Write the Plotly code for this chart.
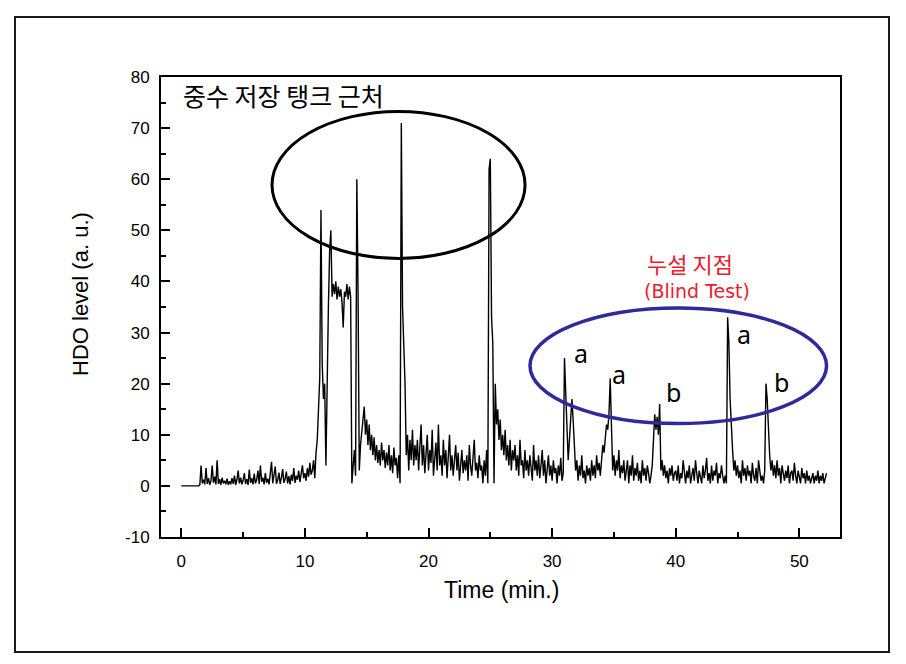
import plotly.graph_objects as go

# ---- data (HDO level sampled every 0.1 min) ----
time_start = 0.0
time_step = 0.1

hdo_00_10 = [
    0, 0, 0, 0, 0, 0, 0, 0, 0, 0,
    0, 0, 0, 0, 0, 0.2, 4.0, 0.5, 1.2, 0.3,
    3.5, 0.4, 1.5, 0.2, 1.0, 4.0, 0.6, 1.8, 0.3, 5.0,
    0.4, 1.3, 0.2, 1.6, 0.5, 1.0, 0.3, 1.4, 0.2, 0.9,
    0.3, 1.5, 0.4, 2.0, 0.2, 1.2, 3.0, 0.5, 1.6, 0.3,
    1.1, 2.5, 0.4, 1.3, 0.2, 3.2, 0.6, 1.5, 0.3, 2.4,
    0.5, 1.2, 3.0, 0.4, 4.0, 0.8, 1.6, 0.3, 2.5, 0.6,
    1.4, 0.3, 2.2, 4.7, 0.5, 1.8, 3.8, 0.4, 1.2, 2.6,
    0.4, 1.6, 3.3, 0.6, 1.4, 2.8, 0.5, 1.9, 0.3, 2.2,
    1.0, 3.5, 0.6, 2.0, 1.2, 3.0, 0.8, 2.4, 4.0, 1.5,
]
hdo_10_20 = [
    2.5, 1.0, 3.5, 1.8, 4.5, 2.2, 3.0, 5.0, 1.5, 6.5,
    9, 15, 21, 54, 24, 17, 20, 4, 25, 35,
    46, 50, 37, 39.5, 37.5, 40, 36.5, 39, 37, 38.5,
    36, 31, 38, 37, 39.5, 36.5, 39, 37, 0.5, 3,
    7, 2, 60, 38, 3, 8, 11, 13, 15.5, 10,
    13, 8, 12, 7, 10, 6, 9.5, 5, 8, 4.5,
    7, 4, 8.5, 5, 7, 3.5, 6.5, 4, 8, 3,
    6, 2.5, 7.5, 4, 5.5, 1.5, 6, 0.5, 71, 35,
    29, 20, 6, 10, 3, 9, 5, 11, 4, 8,
    5, 9, 3, 7, 12, 4, 8, 2.5, 6, 10,
]
hdo_20_30 = [
    3, 7, 4.5, 11, 2, 6, 8.5, 3, 12, 4,
    6, 2, 9, 4, 7, 1.5, 5.5, 10, 3, 6,
    2, 5, 8, 3, 6.5, 1, 4.5, 7, 2.5, 5,
    3, 6, 1, 8, 4, 2, 5.5, 9, 3, 4.5,
    1.5, 6, 3, 4, 0.5, 5, 2, 7, 0.5, 62,
    64, 33, 28, 0.5, 20, 12, 15, 9, 13, 7,
    10, 6, 11, 5, 8, 4, 9, 3, 7, 5,
    8, 3, 6, 2, 9, 4, 5, 1.5, 7, 3,
    5, 2, 6, 4, 1, 8, 3, 5, 2, 6,
    1.5, 4, 7, 2, 5, 0.5, 3, 6, 2, 4,
]
hdo_30_40 = [
    1, 5, 2.5, 3.5, 0.5, 4, 2, 5.5, 1, 2.5,
    25, 19, 12, 5, 9, 14, 17, 13, 7, 3,
    5, 1, 4, 2, 6, 1.5, 3, 0.5, 4, 2,
    3.5, 1, 5, 2, 4, 1.5, 6, 3, 4.5, 2,
    5, 8, 6.5, 9, 12, 11, 14, 21, 12, 3,
    6, 2, 5, 3, 7, 1.5, 4, 2.5, 5, 1,
    3, 5, 0.5, 4, 2, 6, 1, 3.5, 2, 4.5,
    1, 3, 0.5, 5, 2, 3.5, 1, 4, 2.5, 0.5,
    2, 4, 9, 14, 11, 13.5, 10, 16, 3, 5,
    2, 4, 1.5, 3, 0.5, 3.5, 2, 4, 1, 2.5,
]
hdo_40_52 = [
    3, 1, 4, 0.5, 2.5, 1.5, 5, 2, 0.5, 3,
    1.5, 4, 0.5, 2, 3.5, 1, 5, 2.5, 0.5, 3,
    2, 0.5, 4, 1.5, 3, 5.5, 1, 2.5, 0.5, 4,
    1, 3, 2, 4.5, 0.5, 2.5, 1.5, 4, 2, 0.5,
    2, 0.5, 33, 28, 17, 11, 7, 3, 5, 2,
    4, 1.5, 3, 0.5, 5, 2, 3.5, 1, 4, 2,
    3, 0.5, 4.5, 2, 1, 3.5, 0.5, 5, 2.5, 1,
    2, 0.5, 3, 20, 17, 10, 6, 3, 5, 2,
    4, 1.5, 5, 2, 3.5, 0.5, 4, 2.5, 1, 3,
    1.5, 4, 0.5, 2.5, 3, 1, 4.5, 2, 0.5, 3,
    2, 0.5, 3.5, 1.5, 2.5, 0.5, 3, 1, 2, 0.5,
    1.5, 2.5, 0.5, 2, 1, 3, 0.5, 2, 1, 2.5,
    0.5, 1.5, 2.5,
]

x_ticks = [0, 10, 20, 30, 40, 50]
x_tick_text = ["0", "10", "20", "30", "40", "50"]
y_ticks = [-10, 0, 10, 20, 30, 40, 50, 60, 70, 80]
y_tick_text = ["-10", "0", "10", "20", "30", "40", "50", "60", "70", "80"]

title_kr = "중수 저장 탱크 근처"
leak_kr = "누설 지점"
leak_en = "(Blind Test)"
peak_labels = ["a", "a", "b", "a", "b"]
x_title = "Time (min.)"
y_title = "HDO level (a. u.)"

# ---- build ----
hdo = hdo_00_10 + hdo_10_20 + hdo_20_30 + hdo_30_40 + hdo_40_52
time = [round(time_start + i * time_step, 2) for i in range(len(hdo))]

W, H = 906, 664
L, R, T, B = 161, 840, 77, 537  # plot area in pixels


def px(xp):
    return (xp - L) / (R - L)


def py(yp):
    return (B - yp) / (B - T)


fig = go.Figure()
fig.add_trace(go.Scatter(x=time, y=hdo, mode="lines",
                         line=dict(color="black", width=1.4), showlegend=False))

axis_font = dict(family="Liberation Sans, Arial, sans-serif", size=17, color="black")
common = dict(showline=True, linewidth=2, linecolor="black", mirror=True,
              ticks="inside", ticklen=9, tickwidth=2, tickcolor="black",
              showgrid=False, zeroline=False, tickfont=axis_font,
              minor=dict(ticks="inside", ticklen=5, tickwidth=2, tickcolor="black", dtick=5, tick0=0))

fig.update_xaxes(range=[-1.642, 53.29], tickvals=x_ticks, ticktext=x_tick_text,
                 ticklabelstandoff=8, **common)
fig.update_yaxes(range=[-10, 80], tickvals=y_ticks, ticktext=y_tick_text,
                 ticklabelstandoff=6, **common)

shapes = [
    dict(type="rect", xref="paper", yref="paper",
         x0=px(15), x1=px(889), y0=py(652), y1=py(17),
         line=dict(color="#1a1a1a", width=2)),
    dict(type="circle", xref="x", yref="y", x0=7.34, x1=27.81, y0=44.5, y1=73.25,
         line=dict(color="black", width=3)),
    dict(type="circle", xref="x", yref="y", x0=28.21, x1=52.2, y0=12.2, y1=34.8,
         line=dict(color="#2f2a9a", width=3.5)),
]

ann = []
ann.append(dict(text=title_kr, xref="paper", yref="paper", x=px(181), y=py(95),
                xanchor="left", yanchor="middle", showarrow=False,
                font=dict(family="Noto Sans CJK KR", size=25, color="black")))
ann.append(dict(text=leak_kr, xref="paper", yref="paper", x=px(690), y=py(263),
                xanchor="center", yanchor="middle", showarrow=False, borderpad=0,
                font=dict(family="Noto Sans CJK KR", size=22, color="#e8202f")))
ann.append(dict(text=leak_en, xref="paper", yref="paper", x=px(697), y=py(291),
                xanchor="center", yanchor="middle", showarrow=False, borderpad=0,
                font=dict(family="DejaVu Sans, sans-serif", size=19, color="#e8202f")))
label_pos = [(581, 353), (619, 374), (673, 392), (744, 334), (781, 382)]
for lab, (lx, ly) in zip(peak_labels, label_pos):
    ann.append(dict(text=lab, xref="paper", yref="paper", x=px(lx), y=py(ly),
                    xanchor="center", yanchor="middle", showarrow=False,
                    font=dict(family="Noto Sans, sans-serif", size=25, color="black")))
ann.append(dict(text=x_title, xref="paper", yref="paper", x=px(501), y=py(590),
                xanchor="center", yanchor="middle", showarrow=False,
                font=dict(family="Liberation Sans, Arial, sans-serif", size=23, color="black")))
ann.append(dict(text=y_title, xref="paper", yref="paper", x=px(80), y=py(294),
                xanchor="center", yanchor="middle", showarrow=False, textangle=-90,
                font=dict(family="Liberation Sans, Arial, sans-serif", size=22, color="black")))

fig.update_layout(width=W, height=H, margin=dict(l=L, r=W - R, t=T, b=H - B),
                  paper_bgcolor="white", plot_bgcolor="white",
                  shapes=shapes, annotations=ann, showlegend=False)

fig.write_html("out.html", config={"displayModeBar": False},
               post_script="document.body.style.margin='0px';")
